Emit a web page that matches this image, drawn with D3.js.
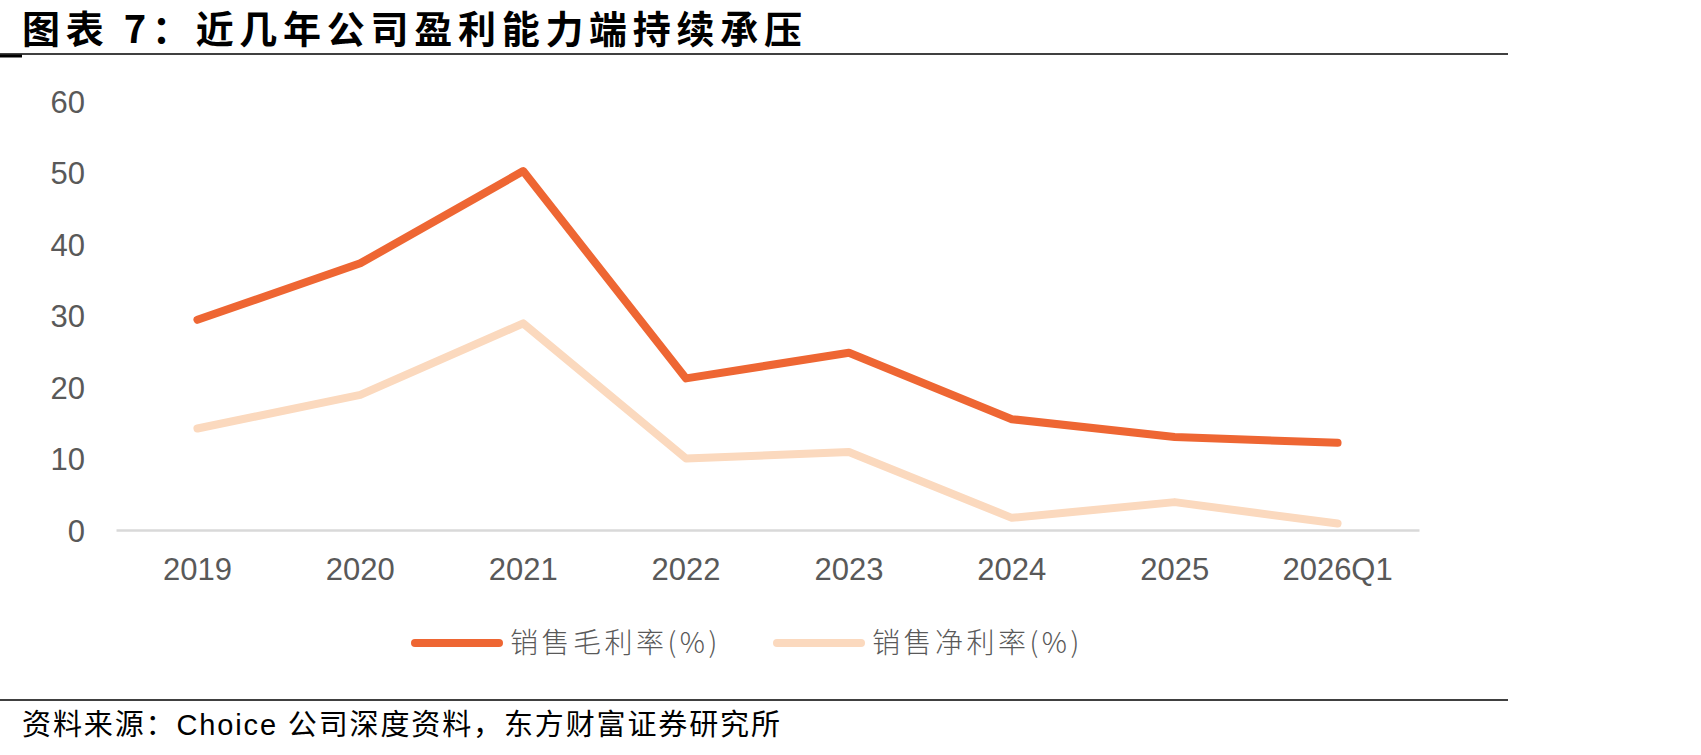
<!DOCTYPE html>
<html>
<head>
<meta charset="utf-8">
<script src="https://cdn.jsdelivr.net/npm/d3@7"></script>
<style>
  body { margin: 0; background: #fff; }
  svg { display: block; }
  .tick text { fill: #595959; font-family: "Liberation Sans", Arial, sans-serif; font-size: 31px; }
  .title { font-family: "Noto Sans CJK SC", sans-serif; font-weight: 700; font-size: 38px; fill: #000; }
  .source { font-family: "Liberation Sans", "Noto Sans CJK SC", sans-serif; font-size: 29px; fill: #000; }
  .legend text { font-family: "Noto Sans CJK SC", sans-serif; font-weight: 300; font-size: 28px; fill: #595959; letter-spacing: 3.5px; }
</style>
</head>
<body>
<div id="chart"></div>
<script>
  const categories = ['2019', '2020', '2021', '2022', '2023', '2024', '2025', '2026Q1'];
  const grossMargin = [29.4, 37.3, 50.2, 21.2, 24.8, 15.5, 13.0, 12.2];
  const netMargin = [14.2, 18.9, 28.9, 10.0, 10.9, 1.7, 3.9, 0.9];
  const yTicks = [0, 10, 20, 30, 40, 50, 60];

  const series = [
    { name: '销售毛利率(%)', values: grossMargin, color: '#EE6633' },
    { name: '销售净利率(%)', values: netMargin, color: '#FBD9BE' }
  ];

  const W = 1701, H = 755;
  const margin = { top: 101, right: 282, bottom: 225, left: 116 };

  const svg = d3.select('#chart')
    .append('svg')
    .attr('width', W)
    .attr('height', H);

  const x = d3.scaleBand()
    .domain(categories)
    .range([margin.left, W - margin.right]);

  const y = d3.scaleLinear()
    .domain([0, 60])
    .range([H - margin.bottom, margin.top]);

  // title + rules
  svg.append('text')
    .attr('class', 'title')
    .attr('x', 22)
    .attr('y', 43)
    .attr('textLength', 780)
    .attr('lengthAdjust', 'spacing')
    .text('图表 7：近几年公司盈利能力端持续承压');

  svg.append('line')
    .attr('x1', 0).attr('x2', 1508)
    .attr('y1', 54).attr('y2', 54)
    .attr('stroke', '#000').attr('stroke-width', 1.5);
  svg.append('line')
    .attr('x1', 0).attr('x2', 22)
    .attr('y1', 56).attr('y2', 56)
    .attr('stroke', '#000').attr('stroke-width', 3);

  svg.append('line')
    .attr('x1', 0).attr('x2', 1508)
    .attr('y1', 700).attr('y2', 700)
    .attr('stroke', '#000').attr('stroke-width', 1.5);

  svg.append('text')
    .attr('class', 'source')
    .attr('x', 22)
    .attr('y', 735)
    .attr('textLength', 758)
    .attr('lengthAdjust', 'spacing')
    .text('资料来源：Choice 公司深度资料，东方财富证券研究所');

  // axes
  const yAxis = svg.append('g')
    .attr('transform', `translate(${margin.left - 31},0)`)
    .call(d3.axisLeft(y).tickValues(yTicks).tickSize(0).tickPadding(0));
  yAxis.select('.domain').remove();
  yAxis.selectAll('text').attr('dy', '0.36em');

  const xAxis = svg.append('g')
    .attr('transform', `translate(0,${y(0)})`)
    .call(d3.axisBottom(x).tickSize(0).tickPadding(28));
  xAxis.select('.domain').attr('stroke', '#d9d9d9').attr('stroke-width', 2.5);

  // lines
  const line = d3.line()
    .x((d, i) => x(categories[i]) + x.bandwidth() / 2)
    .y(d => y(d));

  svg.selectAll('.series')
    .data(series)
    .join('path')
    .attr('class', 'series')
    .attr('d', d => line(d.values))
    .attr('fill', 'none')
    .attr('stroke', d => d.color)
    .attr('stroke-width', 8)
    .attr('stroke-linecap', 'round')
    .attr('stroke-linejoin', 'round');

  // legend
  const legendX = [415, 777];
  const legendY = 643;
  const legend = svg.append('g').attr('class', 'legend');
  const items = legend.selectAll('g')
    .data(series)
    .join('g')
    .attr('transform', (d, i) => `translate(${legendX[i]},${legendY})`);
  items.append('line')
    .attr('x1', 0).attr('x2', 84)
    .attr('stroke', d => d.color)
    .attr('stroke-width', 8)
    .attr('stroke-linecap', 'round');
  items.append('text')
    .attr('x', 95)
    .attr('dy', '0.36em')
    .text(d => d.name);
</script>
</body>
</html>
